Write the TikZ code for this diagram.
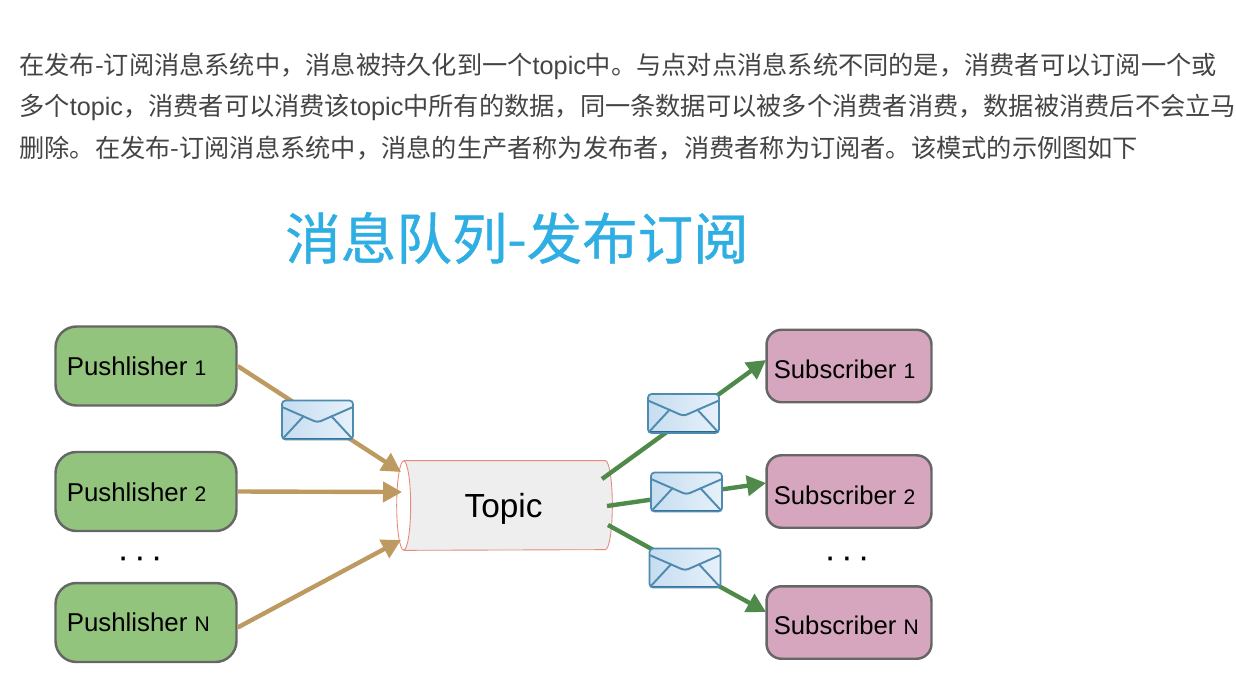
\documentclass[tikz,border=0pt]{standalone}
\usepackage{fontspec}
\setmainfont{Noto Sans CJK SC}
\newfontfamily\labelfont{Liberation Sans}
\newfontfamily\titlefont[FakeBold=0.7]{Noto Sans CJK SC}
\usepackage{xcolor}
\usetikzlibrary{arrows.meta,positioning,calc}
\definecolor{pubgreen}{HTML}{93C47D}
\definecolor{subpink}{HTML}{D5A6BD}
\definecolor{boxedge}{HTML}{666666}
\definecolor{inarrow}{HTML}{BD9A60}
\definecolor{outarrow}{HTML}{4F8A4B}
\definecolor{titleblue}{HTML}{2FAEE3}
\definecolor{bodygray}{HTML}{444444}
\definecolor{mailedge}{HTML}{4F8AB0}
\definecolor{maildark}{HTML}{2F678C}
\definecolor{mailleft}{HTML}{C6DDF0}
\definecolor{mailright}{HTML}{E6F1FA}
\definecolor{topicedge}{HTML}{E58A7C}
\definecolor{topicfill}{HTML}{EEEEEE}
\newcommand{\pubtext}[1]{{\labelfont\fontsize{14.7pt}{16pt}\selectfont Pushlisher \fontsize{12pt}{14pt}\selectfont #1}}
\newcommand{\subtext}[1]{{\labelfont\fontsize{14.6pt}{16pt}\selectfont Subscriber \fontsize{12pt}{14pt}\selectfont #1}}
\newcommand{\topicword}{{\labelfont topic}}

\begin{document}
\begin{tikzpicture}[x=0.02cm, y=-0.02cm,
  line/.style={anchor=west, inner sep=0pt, text=bodygray, font=\fontsize{14.36pt}{17pt}\selectfont},
  pub/.style={draw=boxedge, line width=1.4pt, fill=pubgreen, rounded corners=0.42cm,
              minimum width=3.62cm, minimum height=1.58cm, inner sep=0pt},
  sub/.style={draw=boxedge, line width=1.4pt, fill=subpink, rounded corners=0.3cm,
              minimum width=3.3cm, minimum height=1.45cm, inner sep=0pt},
  inarr/.style={-{Triangle[length=3.8mm,width=4mm]}, draw=inarrow, line width=2.5pt},
  outarr/.style={-{Triangle[length=3.8mm,width=4mm]}, draw=outarrow, line width=2.5pt},
  mail/.style={draw=mailedge, line width=1pt, rounded corners=2pt, inner sep=0pt,
               minimum width=1.42cm, minimum height=0.78cm,
               left color=mailleft, right color=mailright,
               path picture={
                 \draw[mailedge, line width=1.1pt]
                   ($(path picture bounding box.north west)+(0,-0.13cm)$)
                   -- ($(path picture bounding box.center)+(0,-0.05cm)$)
                   -- ($(path picture bounding box.north east)+(0,-0.13cm)$);
                 \draw[mailedge, line width=1.1pt]
                   (path picture bounding box.south west) -- ($(path picture bounding box.center)+(-0.27cm,0.085cm)$);
                 \draw[mailedge, line width=1.1pt]
                   (path picture bounding box.south east) -- ($(path picture bounding box.center)+(0.27cm,0.085cm)$);
                 \draw[maildark, line width=1.8pt]
                   (path picture bounding box.south west) -- (path picture bounding box.south east);
               }},
  dots/.style={inner sep=0pt, text=black, font=\labelfont\fontsize{20pt}{20pt}\selectfont},
  topicline/.style={draw=topicedge, line width=0.5pt}
]
\useasboundingbox (0,0) rectangle (1236,697);

\node[line] (line1) at (19,66) {在发布-订阅消息系统中，消息被持久化到一个\topicword 中。与点对点消息系统不同的是，消费者可以订阅一个或};
\node[line] (line2) at (19,107) {多个\topicword ，消费者可以消费该\topicword 中所有的数据，同一条数据可以被多个消费者消费，数据被消费后不会立马};
\node[line] (line3) at (19,148) {删除。在发布-订阅消息系统中，消息的生产者称为发布者，消费者称为订阅者。该模式的示例图如下};
\node[inner sep=0pt, text=titleblue, font=\titlefont\fontsize{31.6pt}{34pt}\selectfont] (title) at (517,238) {消息队列-发布订阅};

\node[pub] (pub1) at (146,366) {};
\node[pub] (pub2) at (146,491.5) {};
\node[pub] (pubn) at (146,622.5) {};
\node[anchor=west, inner sep=0pt] (pub1text) at (66.5,366) {\pubtext{1}};
\node[anchor=west, inner sep=0pt] (pub2text) at (66.5,492) {\pubtext{2}};
\node[anchor=west, inner sep=0pt] (pubntext) at (66.5,622) {\pubtext{N}};
\node[dots] (pubdots) at (140,563) {·\hspace{0.1cm}·\hspace{0.1cm}·};

\node[sub] (sub1) at (849,366) {};
\node[sub] (sub2) at (849,491.5) {};
\node[sub] (subn) at (849,622.5) {};
\node[anchor=west, inner sep=0pt] (sub1text) at (773.5,369) {\subtext{1}};
\node[anchor=west, inner sep=0pt] (sub2text) at (773.5,495) {\subtext{2}};
\node[anchor=west, inner sep=0pt] (subntext) at (773.5,625) {\subtext{N}};
\node[dots] (subdots) at (847,563) {·\hspace{0.1cm}·\hspace{0.1cm}·};

\node[minimum width=4.3cm, minimum height=1.78cm, inner sep=0pt] (topic) at (504.5,505.5) {};
\draw[topicline, fill=topicfill] ($(topic.north west)+(7,0)$) -- ($(topic.north east)+(-7,0)$)
  arc[x radius=0.14cm, y radius=0.89cm, start angle=90, end angle=-90]
  -- ($(topic.south west)+(7,0)$);
\draw[topicline, fill=white] ($(topic.west)+(7,0)$) ellipse[x radius=0.14cm, y radius=0.89cm];
\node[inner sep=0pt, font=\labelfont\fontsize{19pt}{20pt}\selectfont] (topictext) at (503.5,509) {Topic};

\coordinate (in1) at (401,472);
\coordinate (in2) at (402,492);
\coordinate (in3) at (401,540);
\coordinate (out1) at (602,479);
\coordinate (out2) at (607,506);
\coordinate (out3) at (608,525);
\coordinate (sub1tip) at (766,360);
\coordinate (sub2tip) at (766,483);
\coordinate (subntip) at (766,612);

\draw[inarr] (pub1.east) -- (in1);
\draw[inarr] (pub2.east) -- (in2);
\draw[inarr] ($(pubn.east)+(0,5)$) -- (in3);
\draw[outarr] (out1) -- (sub1tip);
\draw[outarr] (out2) -- (sub2tip);
\draw[outarr] (out3) -- (subntip);

\node[mail] (mail1) at (317.5,420) {};
\node[mail] (mail2) at (683.5,413.5) {};
\node[mail] (mail3) at (686.5,492) {};
\node[mail] (mail4) at (685,568) {};
\end{tikzpicture}
\end{document}
